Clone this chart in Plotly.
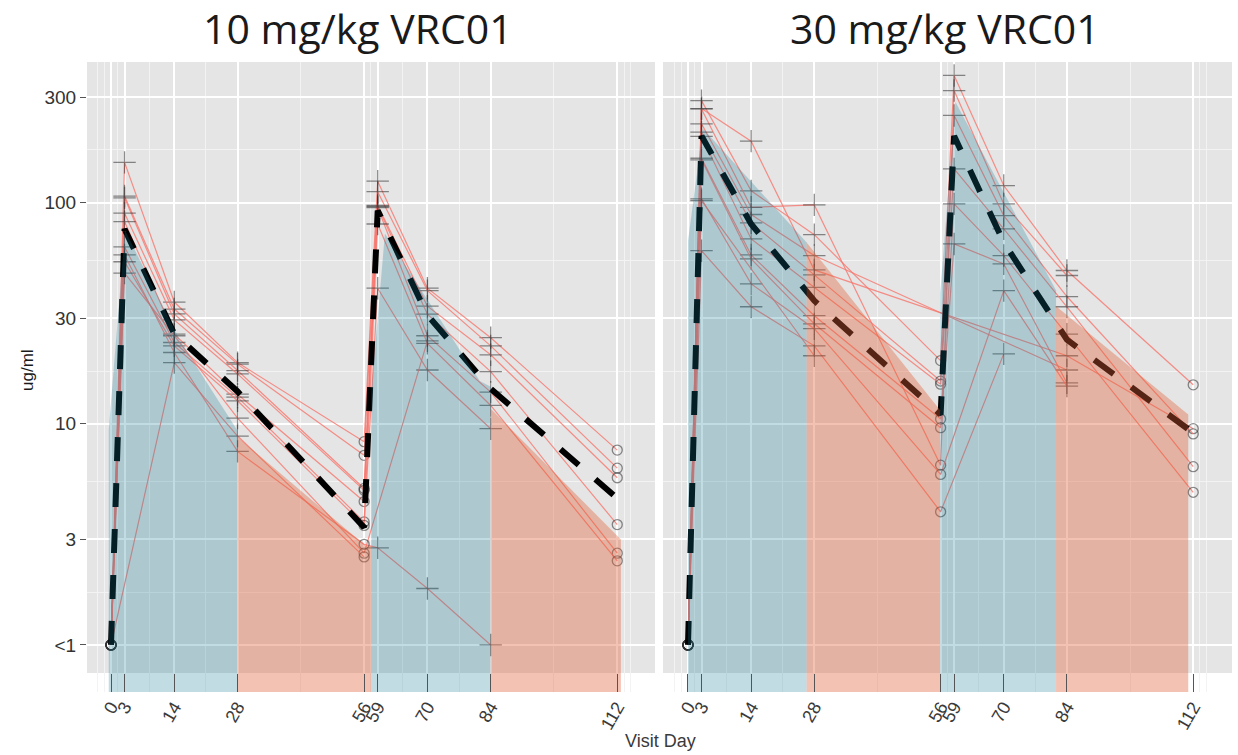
import plotly.graph_objects as go

# ---------------- data ----------------
DAYS = [0, 3, 14, 28, 56, 59, 70, 84, 112]
DAY_LABELS = ["0", "3", "14", "28", "56", "59", "70", "84", "112"]
Y_TICKS = [1, 3, 10, 30, 100, 300]
Y_TICK_LABELS = ["<1", "3", "10", "30", "100", "300"]
X_MINOR = [-3, -1.5, 1.5, 8.5, 21, 42, 57.5, 64.5, 77, 98, 113.5, 115]
Y_MINOR = [1.73, 5.48, 17.3, 54.8, 173]
PANEL_TITLES = ["10 mg/kg VRC01", "30 mg/kg VRC01"]

# 10 mg/kg VRC01 individual subjects (value per visit day, None = not measured)
LOW_S1 = [1, 152, 35.5, 18.9, 8.3, 125, 41, 24.5, 7.6]
LOW_S2 = [1, 107, 33, 18.6, 7.2, 112, 40, 22.5, 6.3]
LOW_S3 = [1, 105, 31.4, 17.4, 5.1, 97, 34, 20.5, 5.7]
LOW_S4 = [1, 89.5, 29.5, 16.8, 5.0, 96, 31.3, 17.2, 3.5]
LOW_S5 = [1, 82, 25.4, 13.6, 4.45, 95, 25, 13.9, 2.6]
LOW_S6 = [1, 63, 23.3, 13.2, 3.6, 80, 23.1, 12.1, 2.4]
LOW_S7 = [1, 54, 22.5, 12.7, 3.47, 41, 17.5, 9.5, None]
LOW_S8 = [1, 48, 25, 10.6, 2.6, None, 23.7, None, None]
LOW_S9 = [1, None, 18.9, 8.8, 2.5, None, None, None, None]
LOW_S10 = [1, 58, 21, 7.5, 2.85, 2.75, 1.8, 1, None]
LOW_MEAN = [1, 76, 25.5, 14, 3.4, 92, 31, 14.4, 4.6]

# 30 mg/kg VRC01 individual subjects
HIGH_S1 = [1, 289, 113, 71.6, 19.3, 375.6, 119.4, 49.3, 15.0]
HIGH_S2 = [1, 266, 189.5, 49.6, None, None, None, 20.3, 9.5]
HIGH_S3 = [1, 265, 95.2, 97.6, 6.5, 321, 98.6, 46.8, None]
HIGH_S4 = [1, 227, 88.3, 57.6, None, None, None, 17.5, None]
HIGH_S5 = [1, 208, 81, 47.1, 15.6, 247.7, 87.3, 37.6, 9.0]
HIGH_S6 = [1, 199, 68.5, 41.4, 15.1, 142, 76.1, 33.8, 6.4]
HIGH_S7 = [1, 158.6, 58, 30.8, 10.5, 98.6, 57.6, 25.4, 4.9]
HIGH_S8 = [1, 156, 55.6, 28.3, 9.6, 65, 52.8, 15.3, None]
HIGH_S9 = [1, 104, 42.9, 26.9, 5.9, None, 40, 14.8, None]
HIGH_S10 = [1, 60.6, 33.8, 22.5, 4.0, None, 20.7, None, None]
HIGH_S11 = [1, 102, None, 20.3, None, None, None, None, None]
HIGH_MEAN = [1, 200, 80, 36, 11, 200, 66, 24, 9.1]

# shaded concentration bands: (days, upper edge values)
LOW_BAND_DAYS = [[-0.5, 3.1, 15.3, 28.0], [28.0, 56.4, 57.6], [57.6, 60.6, 81.6, 84.0], [84.0, 112.8]]
LOW_BAND_TOP = [[9.4, 75, 23.7, 9.3], [8.7, 2.8, 2.8], [14, 72.4, 15.6, 14.7], [11.7, 3.0]]
HIGH_BAND_DAYS = [[0.0, 3.3, 26.3], [26.3, 55.9], [55.9, 59.3, 81.6], [81.6, 110.9]]
HIGH_BAND_TOP = [[67, 216, 66], [66, 11.5], [38.8, 285, 40], [34, 11]]

LOW_SUBJECTS = [LOW_S1, LOW_S2, LOW_S3, LOW_S4, LOW_S5, LOW_S6, LOW_S7, LOW_S8, LOW_S9, LOW_S10]
HIGH_SUBJECTS = [HIGH_S1, HIGH_S2, HIGH_S3, HIGH_S4, HIGH_S5, HIGH_S6, HIGH_S7, HIGH_S8,
                 HIGH_S9, HIGH_S10, HIGH_S11]

# ---------------- style ----------------
W, H = 1238, 755
Y_RANGE = [-0.2127, 2.6355]
X_RANGES = [[-5.31, 120.35], [-5.54, 120.6]]
X_DOMAINS = [[87 / W, 655 / W], [663 / W, 1232 / W]]
Y_DOMAIN = [1 - 692 / H, 1 - 62 / H]
TITLE_X = [358 / W, 945 / W]
PANEL_BOTTOM_FRAC = 19 / 630
BAND_COLORS = ["rgba(20,120,151,0.26)", "rgba(226,94,52,0.38)"]
LINE_COLOR = "rgba(248,118,109,0.8)"
MARKER_COLOR = "rgba(50,50,50,0.8)"
SYMBOLS = ["circle-open" if d in (0, 56, 112) else "cross-thin-open" for d in DAYS]
SIZES = [10 if d in (0, 56, 112) else 16 for d in DAYS]

fig = go.Figure()
floor_val = 10 ** Y_RANGE[0]

panels = [
    (LOW_SUBJECTS, LOW_MEAN, LOW_BAND_DAYS, LOW_BAND_TOP),
    (HIGH_SUBJECTS, HIGH_MEAN, HIGH_BAND_DAYS, HIGH_BAND_TOP),
]

for p, (subjects, mean, band_days, band_top) in enumerate(panels):
    xa = "x" if p == 0 else "x2"
    ya = "y" if p == 0 else "y2"
    for subj in subjects:
        fig.add_trace(go.Scatter(
            x=DAYS, y=subj, mode="lines+markers", connectgaps=True,
            line=dict(color=LINE_COLOR, width=1.2),
            marker=dict(symbol=SYMBOLS, size=SIZES, color=MARKER_COLOR,
                        line=dict(width=1.3, color=MARKER_COLOR)),
            xaxis=xa, yaxis=ya, showlegend=False, hoverinfo="skip"))
    fig.add_trace(go.Scatter(
        x=DAYS, y=mean, mode="lines",
        line=dict(color="black", width=6, dash="24px,22px"),
        xaxis=xa, yaxis=ya, showlegend=False, hoverinfo="skip"))
    for i, (bd, bt) in enumerate(zip(band_days, band_top)):
        fig.add_trace(go.Scatter(
            x=[bd[0]] + bd + [bd[-1]],
            y=[floor_val] + bt + [floor_val],
            mode="lines", fill="toself", fillcolor=BAND_COLORS[i % 2],
            line=dict(width=0, color="rgba(0,0,0,0)"),
            xaxis=xa, yaxis=ya, showlegend=False, hoverinfo="skip"))
    # grey panel background (ends slightly above the shaded strip)
    fig.add_shape(type="rect", xref=f"{xa} domain", yref=f"{ya} domain",
                  x0=0, x1=1, y0=PANEL_BOTTOM_FRAC, y1=1,
                  fillcolor="#e5e5e5", line=dict(width=0), layer="below")
    fig.add_annotation(text=PANEL_TITLES[p], xref="paper", yref="paper",
                       x=TITLE_X[p], y=1 - 28 / H, xanchor="center", yanchor="middle",
                       showarrow=False,
                       font=dict(family="Open Sans", size=41, color="#1a1a1a"))

axis_font = dict(family="Liberation Sans, Arial", size=18, color="#3a3a3a")
for p in range(2):
    sfx = "" if p == 0 else "2"
    fig.update_layout(**{
        f"xaxis{sfx}": dict(
            domain=X_DOMAINS[p], range=X_RANGES[p], anchor=f"y{sfx}",
            tickmode="array", tickvals=DAYS, ticktext=DAY_LABELS,
            tickangle=-60, tickfont=axis_font,
            ticks="inside", ticklen=18, tickcolor="#555555", tickwidth=1,
            showgrid=True, gridcolor="white", gridwidth=2,
            minor=dict(tickmode="array", tickvals=X_MINOR, showgrid=True,
                       gridcolor="#f3f3f3", gridwidth=1, ticks=""),
            zeroline=False, showline=False, automargin=False),
        f"yaxis{sfx}": dict(
            domain=Y_DOMAIN, type="log", range=Y_RANGE, anchor=f"x{sfx}",
            tickmode="array", tickvals=Y_TICKS, ticktext=Y_TICK_LABELS,
            showticklabels=(p == 0),
            tickfont=dict(family="Liberation Sans, Arial", size=19, color="#333333"),
            ticks="outside" if p == 0 else "", ticklen=6, tickcolor="#555555",
            showgrid=True, gridcolor="white", gridwidth=2,
            minor=dict(tickmode="array", tickvals=Y_MINOR, showgrid=True,
                       gridcolor="#f3f3f3", gridwidth=1, ticks=""),
            zeroline=False, showline=False, automargin=False),
    })

fig.add_annotation(text="ug/ml", xref="paper", yref="paper", x=27 / W, y=1 - 370 / H,
                   textangle=-90, showarrow=False, xanchor="center", yanchor="middle",
                   font=dict(family="Liberation Sans, Arial", size=17, color="#1a1a1a"))
fig.add_annotation(text="Visit Day", xref="paper", yref="paper", x=660 / W, y=1 - 741 / H,
                   showarrow=False, xanchor="center", yanchor="middle",
                   font=dict(family="Liberation Sans, Arial", size=18, color="#3a3a3a"))

fig.update_layout(width=W, height=H, margin=dict(l=0, r=0, t=0, b=0),
                  plot_bgcolor="white", paper_bgcolor="white", showlegend=False)

fig.write_html("out.html")
